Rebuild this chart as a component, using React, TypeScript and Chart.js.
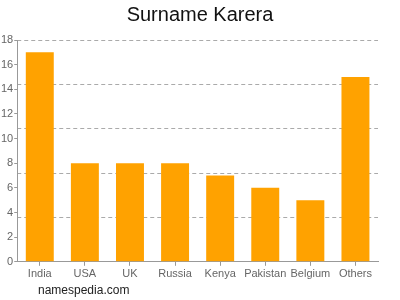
import React, { useEffect, useRef } from "react";
import { Chart, registerables } from "chart.js";

Chart.register(...registerables);

const titleText = "Surname Karera";
const footerText = "namespedia.com";
const categories = ["India", "USA", "UK", "Russia", "Kenya", "Pakistan", "Belgium", "Others"];
const counts = [17, 8, 8, 8, 7, 6, 5, 15];
const yMax = 18;
const yStep = 2;
const gridStep = 3.6;

const footerPlugin = {
  id: "footerText",
  afterDraw(chart: any) {
    const ctx = chart.ctx;
    ctx.save();
    ctx.font = "12px 'Liberation Sans', Arial, sans-serif";
    ctx.fillStyle = "#222";
    ctx.textBaseline = "middle";
    ctx.textAlign = "left";
    ctx.fillText(footerText, 38, 291);
    ctx.restore();
  },
};

export default function App() {
  const ref = useRef<HTMLCanvasElement | null>(null);
  useEffect(() => {
    document.body.style.margin = "0";
    const chart = new Chart(ref.current!, {
      type: "bar",
      data: {
        labels: categories,
        datasets: [
          {
            data: counts,
            backgroundColor: "#ffa200",
            borderWidth: 0,
            categoryPercentage: 1,
            barPercentage: 0.62,
          },
        ],
      },
      plugins: [footerPlugin],
      options: {
        animation: false,
        responsive: false,
        layout: { padding: { left: 0, right: 0, top: 0, bottom: 17 } },
        plugins: {
          legend: { display: false },
          tooltip: { enabled: false },
          title: {
            display: true,
            text: titleText,
            color: "#111",
            font: { size: 20, family: "'Liberation Sans', Arial, sans-serif", weight: "normal" },
            padding: { top: 3, bottom: 13 },
          },
        },
        scales: {
          x: {
            grid: { drawOnChartArea: false, offset: false, tickLength: 4, color: "#999" },
            border: { color: "#999" },
            ticks: {
              color: "#666",
              font: { size: 11, family: "'Liberation Sans', Arial, sans-serif" },
              padding: 2,
              maxRotation: 0,
              autoSkip: false,
            },
          },
          y: {
            min: 0,
            max: yMax,
            position: "left",
            grid: { drawOnChartArea: false, tickLength: 3, color: "#999" },
            border: { color: "#999" },
            ticks: {
              stepSize: yStep,
              color: "#666",
              font: { size: 11, family: "'Liberation Sans', Arial, sans-serif" },
              padding: 1,
            },
          },
          yGrid: {
            min: 0,
            max: yMax,
            position: "right",
            grid: { color: "#aaa", drawTicks: false },
            border: { display: false, dash: [4, 3] },
            ticks: { display: false, stepSize: gridStep },
            afterBuildTicks(scale: any) {
              const t = [];
              for (let v = 0; v <= yMax + 1e-6; v += gridStep) t.push({ value: v });
              scale.ticks = t;
            },
            afterFit(scale: any) {
              scale.width = 22;
            },
          } as any,
        },
      } as any,
    });
    return () => chart.destroy();
  }, []);
  return (
    <div style={{ position: "absolute", left: 0, top: 0, width: 400, height: 300 }}>
      <canvas ref={ref} width={400} height={300} />
    </div>
  );
}
